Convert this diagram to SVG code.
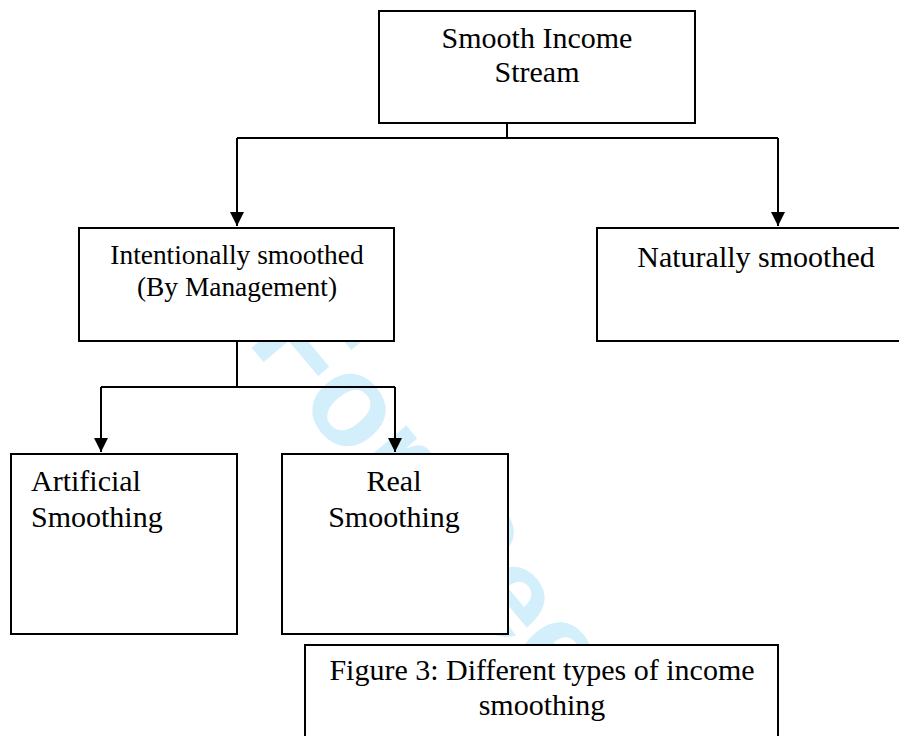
<svg xmlns="http://www.w3.org/2000/svg" width="899" height="736" viewBox="0 0 899 736">
  <defs>
    <style>
      .box { fill: #ffffff; stroke: #000000; stroke-width: 2; }
      .lbl { font-family: "Liberation Serif", "Times New Roman", serif; font-size: 30px; fill: #000000; }
      .mid { text-anchor: middle; }
      .conn { fill: none; stroke: #000000; stroke-width: 2; }
      .wm { font-family: "Liberation Sans", Arial, sans-serif; font-weight: bold; font-size: 130px; fill: #d3effb; }
    </style>
    <marker id="arrow" markerUnits="userSpaceOnUse" markerWidth="14" markerHeight="14" viewBox="0 0 14 14" refX="14" refY="7" orient="auto">
      <path d="M0,0 L14,7 L0,14 Z" fill="#000000"/>
    </marker>
  </defs>

  <rect width="899" height="736" fill="#ffffff"/>

  <text class="wm" x="246" y="341" transform="rotate(50 246 341)">For Peer Review</text>

  <g id="connectors">
    <path class="conn" d="M507,123 V138 M237,138 H778 M237,138 V226" marker-end="url(#arrow)"/>
    <path class="conn" d="M778,138 V226" marker-end="url(#arrow)"/>
    <path class="conn" d="M237,341 V387 M101,387 H395"/>
    <path class="conn" d="M101,387 V452" marker-end="url(#arrow)"/>
    <path class="conn" d="M395,387 V452" marker-end="url(#arrow)"/>
  </g>

  <g id="smooth-income-stream">
    <rect class="box" x="379" y="11" width="316" height="112"/>
    <text class="lbl mid" x="537" y="48">Smooth Income</text>
    <text class="lbl mid" x="537" y="82">Stream</text>
  </g>

  <g id="intentionally-smoothed">
    <rect class="box" x="79" y="228" width="315" height="113"/>
    <text class="lbl mid" x="237" y="264" style="font-size:27.4px">Intentionally smoothed</text>
    <text class="lbl mid" x="237" y="296" style="font-size:27.4px">(By Management)</text>
  </g>

  <g id="naturally-smoothed">
    <rect class="box" x="597" y="228" width="320" height="113"/>
    <text class="lbl mid" x="756" y="267">Naturally smoothed</text>
  </g>

  <g id="artificial-smoothing">
    <rect class="box" x="11" y="454" width="226" height="180"/>
    <text class="lbl" x="31" y="491">Artificial</text>
    <text class="lbl" x="31" y="527">Smoothing</text>
  </g>

  <g id="real-smoothing">
    <rect class="box" x="282" y="454" width="226" height="180"/>
    <text class="lbl mid" x="394" y="491">Real</text>
    <text class="lbl mid" x="394" y="527">Smoothing</text>
  </g>

  <g id="caption">
    <rect class="box" x="305" y="645" width="473" height="110"/>
    <text class="lbl mid" x="542" y="680">Figure 3: Different types of income</text>
    <text class="lbl mid" x="542" y="715">smoothing</text>
  </g>
</svg>
